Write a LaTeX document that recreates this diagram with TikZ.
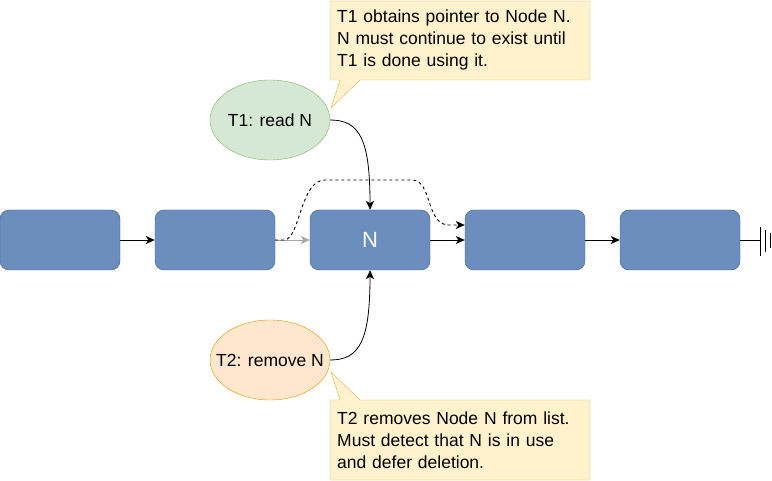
\documentclass[tikz,border=0pt]{standalone}
\usepackage{fontspec}
\setmainfont{Liberation Sans}
\usetikzlibrary{shapes.geometric,arrows.meta}

\definecolor{boxfill}{HTML}{6C8EBF}
\definecolor{boxline}{HTML}{405D86}
\definecolor{greenfill}{HTML}{D5E8D4}
\definecolor{greenline}{HTML}{82B366}
\definecolor{orangefill}{HTML}{FFE6CC}
\definecolor{orangeline}{HTML}{D79B00}
\definecolor{notefill}{HTML}{FFF2CC}
\definecolor{noteline}{HTML}{D6B656}

\begin{document}
\begin{tikzpicture}[x=1pt,y=-1pt,
    listbox/.style={draw=boxline, fill=boxfill, rounded corners=9pt, minimum width=120, minimum height=60, inner sep=0, text=white, font=\fontsize{22}{26}\selectfont},
    thread/.style={ellipse, draw, minimum width=120, minimum height=80, inner xsep=-15, inner ysep=0, font=\fontsize{17.5}{21}\selectfont},
    note/.style={draw=noteline, fill=notefill, line join=miter},
    notetext/.style={text width=248, align=left, inner sep=0, font=\fontsize{17.5}{22}\selectfont},
    link/.style={-{Stealth[length=9, width=8, inset=2.5]}, line width=0.8}]
            \useasboundingbox (0,0) rectangle (772,481);

            %seznam
            \node[listbox] (b1) at (60,240) {};
            \node[listbox] (b2) at (215,240) {};
            \node[listbox] (bn) at (370,240) {N};
            \node[listbox] (b4) at (525,240) {};
            \node[listbox] (b5) at (680,240) {};
            \draw[link] (b1) -- (b2);
            \draw[link, gray!70] (b2) -- (bn);
            \draw[link] (bn) -- (b4);
            \draw[link] (b4) -- (b5);
            \draw[link, dashed, line width=0.9] (b2.east) -- (284,240) .. controls (300,240) and (300,180) .. (325,180) -- (412,180) .. controls (432,180) and (426,224) .. (448,225) -- ([yshift=15]b4.west); %obchvat

            %zem
            \coordinate (gnd) at (760,240);
            \draw[line width=0.8] (b5.east) -- (gnd);
            \draw[line width=0.8] (760,227) -- (760,256) (765,230) -- (765,252) (770,233) -- (770,248);

            %vlakna
            \node[thread, draw=greenline, fill=greenfill] (t1) at (270,120) {T1: read N};
            \node[thread, draw=orangeline, fill=orangefill] (t2) at (270,360) {T2: remove N};
            \draw[link] (t1.east) .. controls (360,120) and (370,140) .. (bn.north);
            \draw[link] (t2.east) .. controls (360,360) and (370,340) .. (bn.south);

            %poznamky
            \draw[note] (330,1) -- (590,1) -- (590,80) -- (360,80) -- (331,108) -- (340,80) -- (330,80) -- cycle;
            \node[notetext, anchor=west] (n1) at (337,40) {T1 obtains pointer to Node N.\\N must continue to exist until\\T1 is done using it.};
            \draw[note] (330,400) -- (340,400) -- (331,372) -- (360,400) -- (590,400) -- (590,480) -- (330,480) -- cycle;
            \node[notetext, anchor=west] (n2) at (337,440) {T2 removes Node N from list.\\Must detect that N is in use\\and defer deletion.};
        \end{tikzpicture}
\end{document}
